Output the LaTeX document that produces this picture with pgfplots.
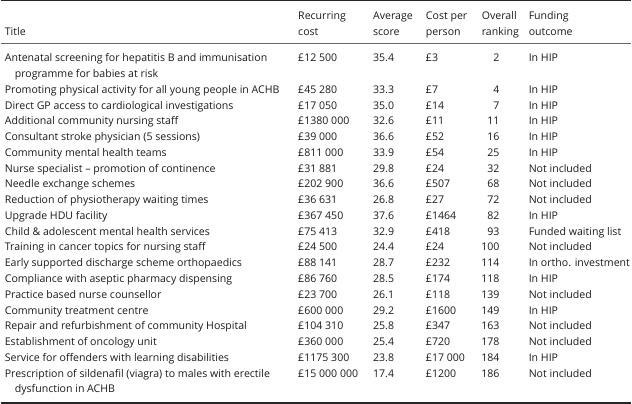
\documentclass[border=0pt]{standalone}
\usepackage{pgfplots}
\pgfplotsset{compat=1.18}
\usepackage{pgfplotstable}
\usepackage{fontspec}
\setmainfont{Open Sans}

\pgfplotstableread[col sep=semicolon]{
line;x;text
0;4;Antenatal screening for hepatitis B and immunisation
1;14;programme for babies at risk
2;4;Promoting physical activity for all young people in ACHB
3;4;Direct GP access to cardiological investigations
4;4;Additional community nursing staff
5;4;Consultant stroke physician (5 sessions)
6;4;Community mental health teams
7;4;Nurse specialist – promotion of continence
8;4;Needle exchange schemes
9;4;Reduction of physiotherapy waiting times
10;4;Upgrade HDU facility
11;4;Child \& adolescent mental health services
12;4;Training in cancer topics for nursing staff
13;4;Early supported discharge scheme orthopaedics
14;4;Compliance with aseptic pharmacy dispensing
15;4;Practice based nurse counsellor
16;4;Community treatment centre
17;4;Repair and refurbishment of community Hospital
18;4;Establishment of oncology unit
19;4;Service for offenders with learning disabilities
20;4;Prescription of sildenafil (viagra) to males with erectile
21;14;dysfunction in ACHB
}\titles

\pgfplotstableread[col sep=semicolon]{
line;rec;avg;cpp;rank;fund
0;£12 500;35.4;£3;2;In HIP
2;£45 280;33.3;£7;4;In HIP
3;£17 050;35.0;£14;7;In HIP
4;£1380 000;32.6;£11;11;In HIP
5;£39 000;36.6;£52;16;In HIP
6;£811 000;33.9;£54;25;In HIP
7;£31 881;29.8;£24;32;Not included
8;£202 900;36.6;£507;68;Not included
9;£36 631;26.8;£27;72;Not included
10;£367 450;37.6;£1464;82;In HIP
11;£75 413;32.9;£418;93;Funded waiting list
12;£24 500;24.4;£24;100;Not included
13;£88 141;28.7;£232;114;In ortho. investment
14;£86 760;28.5;£174;118;In HIP
15;£23 700;26.1;£118;139;Not included
16;£600 000;29.2;£1600;149;In HIP
17;£104 310;25.8;£347;163;Not included
18;£360 000;25.4;£720;178;Not included
19;£1175 300;23.8;£17 000;184;In HIP
20;£15 000 000;17.4;£1200;186;Not included
}\vals

\definecolor{txt}{HTML}{1A1A1A}
\newcommand{\tf}{\fontsize{10.6}{12}\selectfont}

\begin{document}
\begin{tikzpicture}
\begin{axis}[
  width=632pt, height=410pt, scale only axis,
  xmin=0, xmax=632, ymin=0, ymax=410, y dir=reverse,
  hide axis, clip=false,
  nodes near coords={\pgfplotspointmeta},
  point meta=explicit symbolic,
  nodes near coords style={anchor=base west, inner sep=0pt, font=\tf, text=txt},
]
% rules
\draw[line width=1.3pt, black!85] (axis cs:0,0.8) -- (axis cs:632,0.8);
\draw[line width=0.5pt, black!60] (axis cs:0,43) -- (axis cs:632,43);
\draw[line width=1.3pt, black!85] (axis cs:0,404) -- (axis cs:632,404);
% header
\begin{scope}[every node/.style={anchor=base west, inner sep=0pt, font=\tf, text=txt}]
\node at (axis cs:4,36) {Title};
\node at (axis cs:298,20) {Recurring};
\node at (axis cs:298,36) {cost};
\node at (axis cs:373,20) {Average};
\node at (axis cs:373,36) {score};
\node at (axis cs:426,20) {Cost per};
\node at (axis cs:426,36) {person};
\node at (axis cs:482,20) {Overall};
\node at (axis cs:482,36) {ranking};
\node at (axis cs:529,20) {Funding};
\node at (axis cs:529,36) {outcome};
\end{scope}
% body
\addplot[draw=none, mark=none] table[x=x, y expr={62+15.8*\thisrow{line}}, meta=text]{\titles};
\addplot[draw=none, mark=none] table[x expr=298, y expr={62+15.8*\thisrow{line}}, meta=rec]{\vals};
\addplot[draw=none, mark=none] table[x expr=373, y expr={62+15.8*\thisrow{line}}, meta=avg]{\vals};
\addplot[draw=none, mark=none] table[x expr=426, y expr={62+15.8*\thisrow{line}}, meta=cpp]{\vals};
\addplot[draw=none, mark=none, nodes near coords style={anchor=base east}] table[x expr=500, y expr={62+15.8*\thisrow{line}}, meta=rank]{\vals};
\addplot[draw=none, mark=none] table[x expr=529, y expr={62+15.8*\thisrow{line}}, meta=fund]{\vals};
\end{axis}
\end{tikzpicture}
\end{document}
